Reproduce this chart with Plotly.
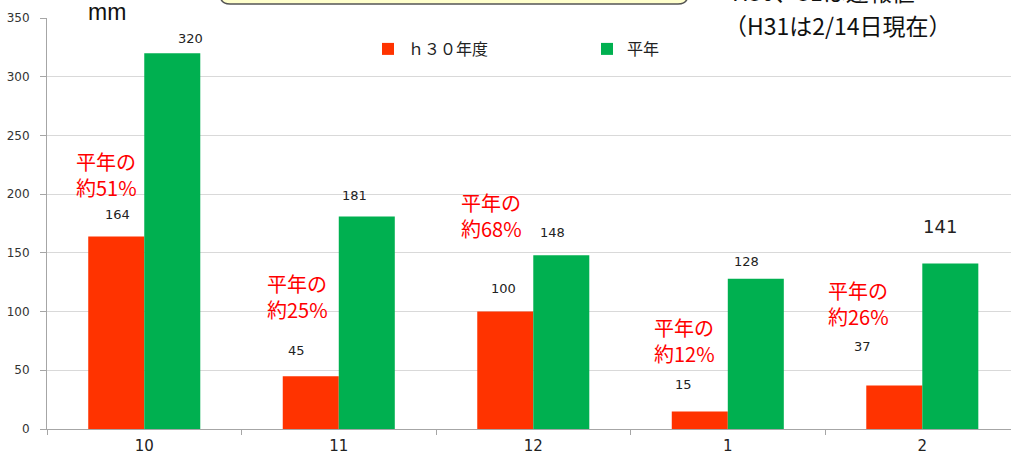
import plotly.graph_objects as go

# ---- data ----
months = ["10", "11", "12", "1", "2"]
h30_values = [164, 45, 100, 15, 37]
normal_values = [320, 181, 148, 128, 141]
series_names = ["ｈ３０年度", "平年"]
y_ticks = [0, 50, 100, 150, 200, 250, 300, 350]

# ---- styling ----
RED = "#FF3300"
GREEN = "#00B050"
NUM_FONT = "DejaVu Sans"
JP_FONT = "Noto Sans CJK JP"

L, T, PW, PH = 47, 18, 964, 411   # plot area in px


def px_x(px):
    return (px - L) / PW


def px_y(py):
    return (T + PH - py) / PH


# label offsets (px) relative to category centre / bar top
h30_label_dx = [-27, -42, -30, -44, -60]
h30_label_dy = [22, 26, 23, 27, 39]
nor_label_dx = [46, 16, 19, 19, 18]
nor_label_dy = [15, 21, 23, 17, 37]
nor_label_size = [13, 13, 13, 13, 18]
pct_dx = [-38, -41, -42, -43, -64]
pct_y = [217, 113, 182, 75, 107]

fig = go.Figure()
fig.add_trace(go.Bar(x=months, y=h30_values, name=series_names[0],
                     marker=dict(color=RED, line=dict(width=0))))
fig.add_trace(go.Bar(x=months, y=normal_values, name=series_names[1],
                     marker=dict(color=GREEN, line=dict(width=0))))

ann = []
for i, m in enumerate(months):
    ann.append(dict(x=i, y=h30_values[i], xref="x", yref="y", text=str(h30_values[i]),
                    showarrow=False, xshift=h30_label_dx[i], yshift=h30_label_dy[i],
                    font=dict(family=NUM_FONT, size=13, color="#222222")))
    ann.append(dict(x=i, y=normal_values[i], xref="x", yref="y", text=str(normal_values[i]),
                    showarrow=False, xshift=nor_label_dx[i], yshift=nor_label_dy[i],
                    font=dict(family=NUM_FONT, size=nor_label_size[i], color="#222222")))
    pct = round(h30_values[i] / normal_values[i] * 100)
    ann.append(dict(x=i, y=pct_y[i], xref="x", yref="y",
                    text=f"平年の<br>約{pct}%", align="left",
                    showarrow=False, xshift=pct_dx[i],
                    font=dict(family=JP_FONT, size=20, color="#FF0000")))

# unit label
ann.append(dict(x=px_x(107), y=px_y(12), xref="paper", yref="paper", text="mm",
                xanchor="center", yanchor="middle", showarrow=False,
                font=dict(family="Liberation Sans", size=23, color="#111111")))
# note at top right (partly cut off by the top edge, as in the source)
ann.append(dict(x=px_x(730), y=px_y(10), xref="paper", yref="paper",
                text="H30、31は速報値", xanchor="left", yanchor="bottom", showarrow=False,
                font=dict(family=JP_FONT, size=23, color="#111111")))
ann.append(dict(x=px_x(722), y=px_y(25), xref="paper", yref="paper",
                text="（H31は2/14日現在）", xanchor="left", yanchor="middle", showarrow=False,
                font=dict(family=JP_FONT, size=23, color="#111111")))

# yellow call-out box (partially visible at top)
x0, x1 = px_x(220), px_x(688)
y0, y1 = px_y(4), px_y(-30)
rx, ry = 10 / PW, 10 / PH
path = (f"M{x0},{y1} L{x0},{y0+ry} Q{x0},{y0} {x0+rx},{y0} "
        f"L{x1-rx},{y0} Q{x1},{y0} {x1},{y0+ry} L{x1},{y1} Z")

fig.update_layout(
    width=1011, height=455,
    margin=dict(l=L, r=1011 - L - PW, t=T, b=455 - T - PH, autoexpand=False),
    paper_bgcolor="white", plot_bgcolor="white",
    barmode="group", bargap=0.424, bargroupgap=0,
    annotations=ann,
    shapes=[dict(type="path", path=path, xref="paper", yref="paper",
                 fillcolor="#FFFFCC", line=dict(color="#555555", width=1.5))],
    legend=dict(orientation="h", x=px_x(368), y=px_y(32),
                xanchor="left", yanchor="top", bgcolor="rgba(0,0,0,0)",
                entrywidth=174, entrywidthmode="pixels",
                font=dict(family=JP_FONT, size=16, color="#222222")),
    xaxis=dict(type="category", range=[-0.5, 4.456], showgrid=False, automargin=False,
               showline=True, linecolor="#A6A6A6", linewidth=1,
               ticks="outside", tickson="boundaries", ticklen=5, tickcolor="#A6A6A6",
               ticklabelstandoff=3,
               tickfont=dict(family=NUM_FONT, size=15, color="#222222")),
    yaxis=dict(range=[0, 350], tickvals=y_ticks, showgrid=True, gridcolor="#D9D9D9",
               showline=True, linecolor="#A6A6A6", linewidth=1, zeroline=False,
               automargin=False,
               ticks="outside", ticklen=6, tickcolor="#A6A6A6", ticklabelstandoff=8,
               tickfont=dict(family=NUM_FONT, size=12, color="#333333")),
)

fig.write_html("out.html", config={"displayModeBar": False},
               post_script="document.body.style.margin='0';document.body.style.overflow='hidden';")
